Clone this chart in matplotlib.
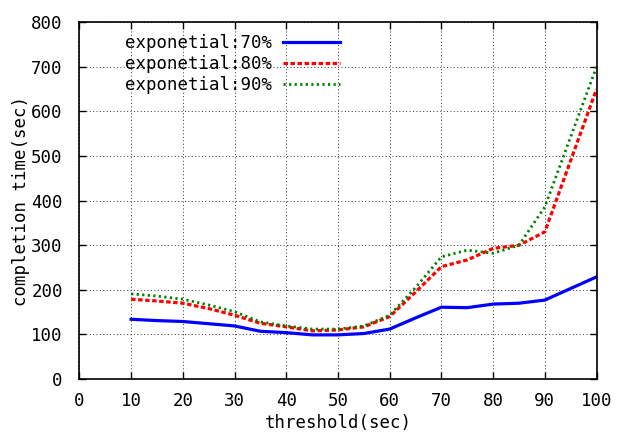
import matplotlib
matplotlib.use("Agg")
import matplotlib.pyplot as plt

# thresholds (sec)
thresholds = [10, 15, 20, 25, 30, 35, 40, 45, 50, 55, 60, 65, 70, 75, 80, 85, 90, 100]

# completion time (sec)
exp70 = [134, 131, 129, 124, 119, 107, 104, 99, 99, 102, 112, 137, 161, 160, 168, 170, 177, 229]
exp80 = [179, 175, 170, 158, 143, 125, 117, 108, 110, 117, 140, 195, 252, 267, 293, 300, 330, 650]
exp90 = [191, 186, 179, 166, 151, 128, 119, 112, 112, 119, 143, 205, 274, 289, 282, 300, 386, 700]

labels = ["exponetial:70%", "exponetial:80%", "exponetial:90%"]

plt.rcParams.update({
    "font.family": ["DejaVu Sans Mono"],
    "font.size": 12.5,
})


def main():
    fig = plt.figure(figsize=(6.19, 4.37), dpi=100)
    ax = fig.add_axes([0.1283, 0.1327, 0.8354, 0.8163])

    ax.plot(thresholds, exp70, color="#0000ff", linewidth=2.3, label=labels[0])
    ax.plot(thresholds, exp80, color="#ff0000", linewidth=2.3,
            dashes=(1.4, 0.8), label=labels[1])
    ax.plot(thresholds, exp90, color="#008000", linewidth=2.0,
            dashes=(0.8, 1.2), label=labels[2])

    ax.set_xlim(0, 100)
    ax.set_ylim(0, 800)
    ax.set_xticks(range(0, 101, 10))
    ax.set_yticks(range(0, 801, 100))
    ax.tick_params(axis="both", direction="in", top=True, right=True,
                   length=5, width=1)
    ax.tick_params(axis="x", pad=9)
    ax.tick_params(axis="y", pad=12)
    ax.grid(True, color="#333333", linestyle=(0, (1, 2.5)), linewidth=0.7)
    for s in ax.spines.values():
        s.set_linewidth(1.2)

    ax.set_xlabel("threshold(sec)", labelpad=3)
    ax.set_ylabel("completion time(sec)", labelpad=1)

    ax.legend(loc="upper left", bbox_to_anchor=(0.065, 1.0), frameon=False,
              markerfirst=False, handlelength=3.3, labelspacing=0.15,
              handletextpad=0.6, borderaxespad=0.3)

    fig.savefig("out.png", dpi=100)
    plt.close(fig)


if __name__ == "__main__":
    main()
